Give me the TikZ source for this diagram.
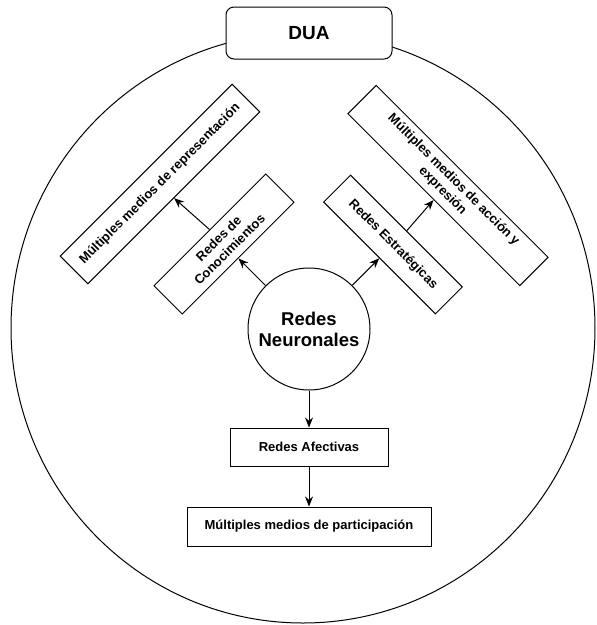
\documentclass[tikz,border=0pt]{standalone}
\usepackage{fontspec}
\setmainfont{Liberation Sans}
\usetikzlibrary{arrows.meta}
\tikzset{
  box/.style={draw=black, line width=1pt, fill=white, inner sep=0pt, align=center,
    font=\fontsize{13}{15.5}\selectfont\bfseries},
  arr/.style={draw=black, line width=1pt, -{Stealth[length=10pt,width=8pt]}},
}
\begin{document}
\begin{tikzpicture}[x=1pt,y=-1pt]
\useasboundingbox (0,0) rectangle (597,625);
\draw[line width=1pt] (303,328) ellipse [x radius=292, y radius=295];
\node[box, rounded corners=8pt, minimum width=166pt, minimum height=52pt,
  font=\fontsize{19}{22}\selectfont\bfseries] (dua) at (309,33) {DUA};
\node[draw=black, line width=1pt, circle, minimum size=122pt, inner sep=0pt, align=center,
  font=\fontsize{18.5}{21}\selectfont\bfseries] (nn) at (309,329) {Redes\\Neuronales};
\node[box, rotate=45, minimum width=158pt, minimum height=40pt] (con) at (224,244) {Redes de\\Conocimientos};
\node[box, rotate=45, minimum width=243pt, minimum height=39pt] (rep) at (160,184) {Múltiples medios de representación};
\node[box, rotate=-45, minimum width=158pt, minimum height=38pt] (est) at (393,244.5) {Redes Estratégicas};
\node[box, rotate=-45, minimum width=243pt, minimum height=40pt] (acc) at (448,185.5) {Múltiples medios de acción y\\expresión};
\node[box, minimum width=158pt, minimum height=38pt] (afe) at (309,447) {Redes Afectivas};
\node[box, minimum width=244pt, minimum height=39pt] (par) at (309,526.5) {Múltiples medios de participación};
\draw[arr] (nn) -- (con.south);
\draw[arr] (con.north) -- (rep.south);
\draw[arr] (nn) -- (est.south);
\draw[arr] (est.north) -- (acc.south);
\draw[arr] (nn) -- (afe.north);
\draw[arr] (afe.south) -- (par.north);
\end{tikzpicture}
\end{document}
